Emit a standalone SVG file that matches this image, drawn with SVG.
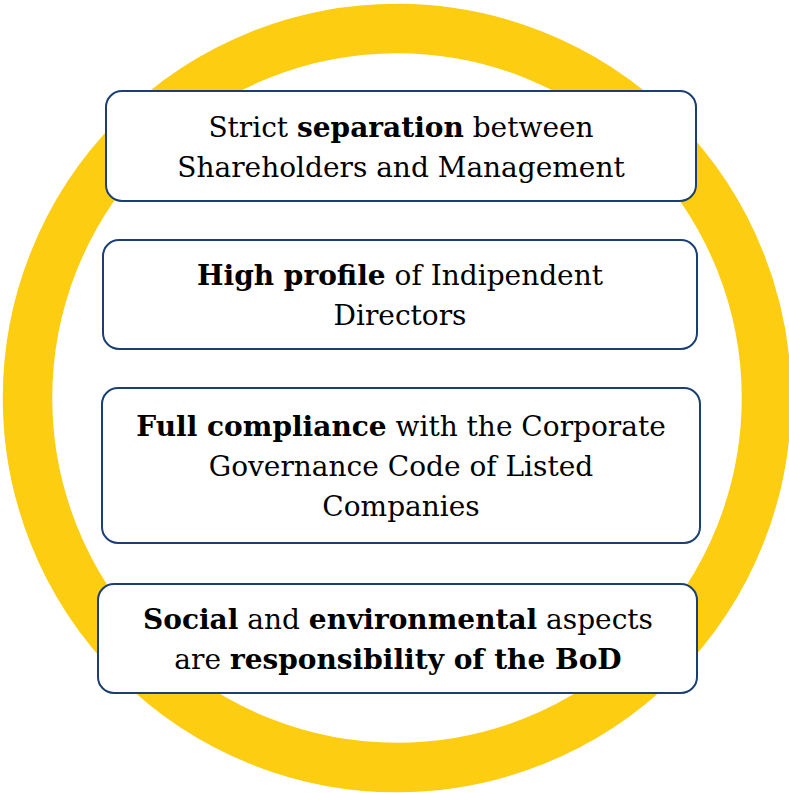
<svg xmlns="http://www.w3.org/2000/svg" width="789" height="793" viewBox="0 0 789 793">
  <style>
    .ring { fill: none; stroke: #FCCD10; stroke-width: 49.5; }
    .box { fill: #FFFFFF; stroke: #1C3F73; stroke-width: 2; }
    .label { font-family: "DejaVu Serif", "Liberation Serif", serif; font-size: 28px; fill: #000000; text-anchor: middle; }
    .b { font-weight: bold; }
  </style>

  <!-- background ring -->
  <circle class="ring" cx="397" cy="398" r="369.5"/>

  <g id="separation">
    <rect class="box" x="106" y="91" width="590" height="110" rx="16" ry="16"/>
    <text class="label" x="401" y="137">Strict <tspan class="b">separation</tspan> between</text>
    <text class="label" x="401" y="177">Shareholders and Management</text>
  </g>

  <g id="directors">
    <rect class="box" x="103" y="240" width="594" height="109" rx="16" ry="16"/>
    <text class="label" x="400" y="285"><tspan class="b">High profile</tspan> of Indipendent</text>
    <text class="label" x="400" y="325">Directors</text>
  </g>

  <g id="compliance">
    <rect class="box" x="102" y="388" width="598" height="155" rx="16" ry="16"/>
    <text class="label" x="401" y="436"><tspan class="b">Full compliance</tspan> with the Corporate</text>
    <text class="label" x="401" y="476">Governance Code of Listed</text>
    <text class="label" x="401" y="516">Companies</text>
  </g>

  <g id="responsibility">
    <rect class="box" x="98" y="584" width="599" height="109" rx="16" ry="16"/>
    <text class="label" x="398" y="629"><tspan class="b">Social</tspan> and <tspan class="b">environmental</tspan> aspects</text>
    <text class="label" x="398" y="669">are <tspan class="b">responsibility of the BoD</tspan></text>
  </g>

  <g id="connectors"/>
</svg>
